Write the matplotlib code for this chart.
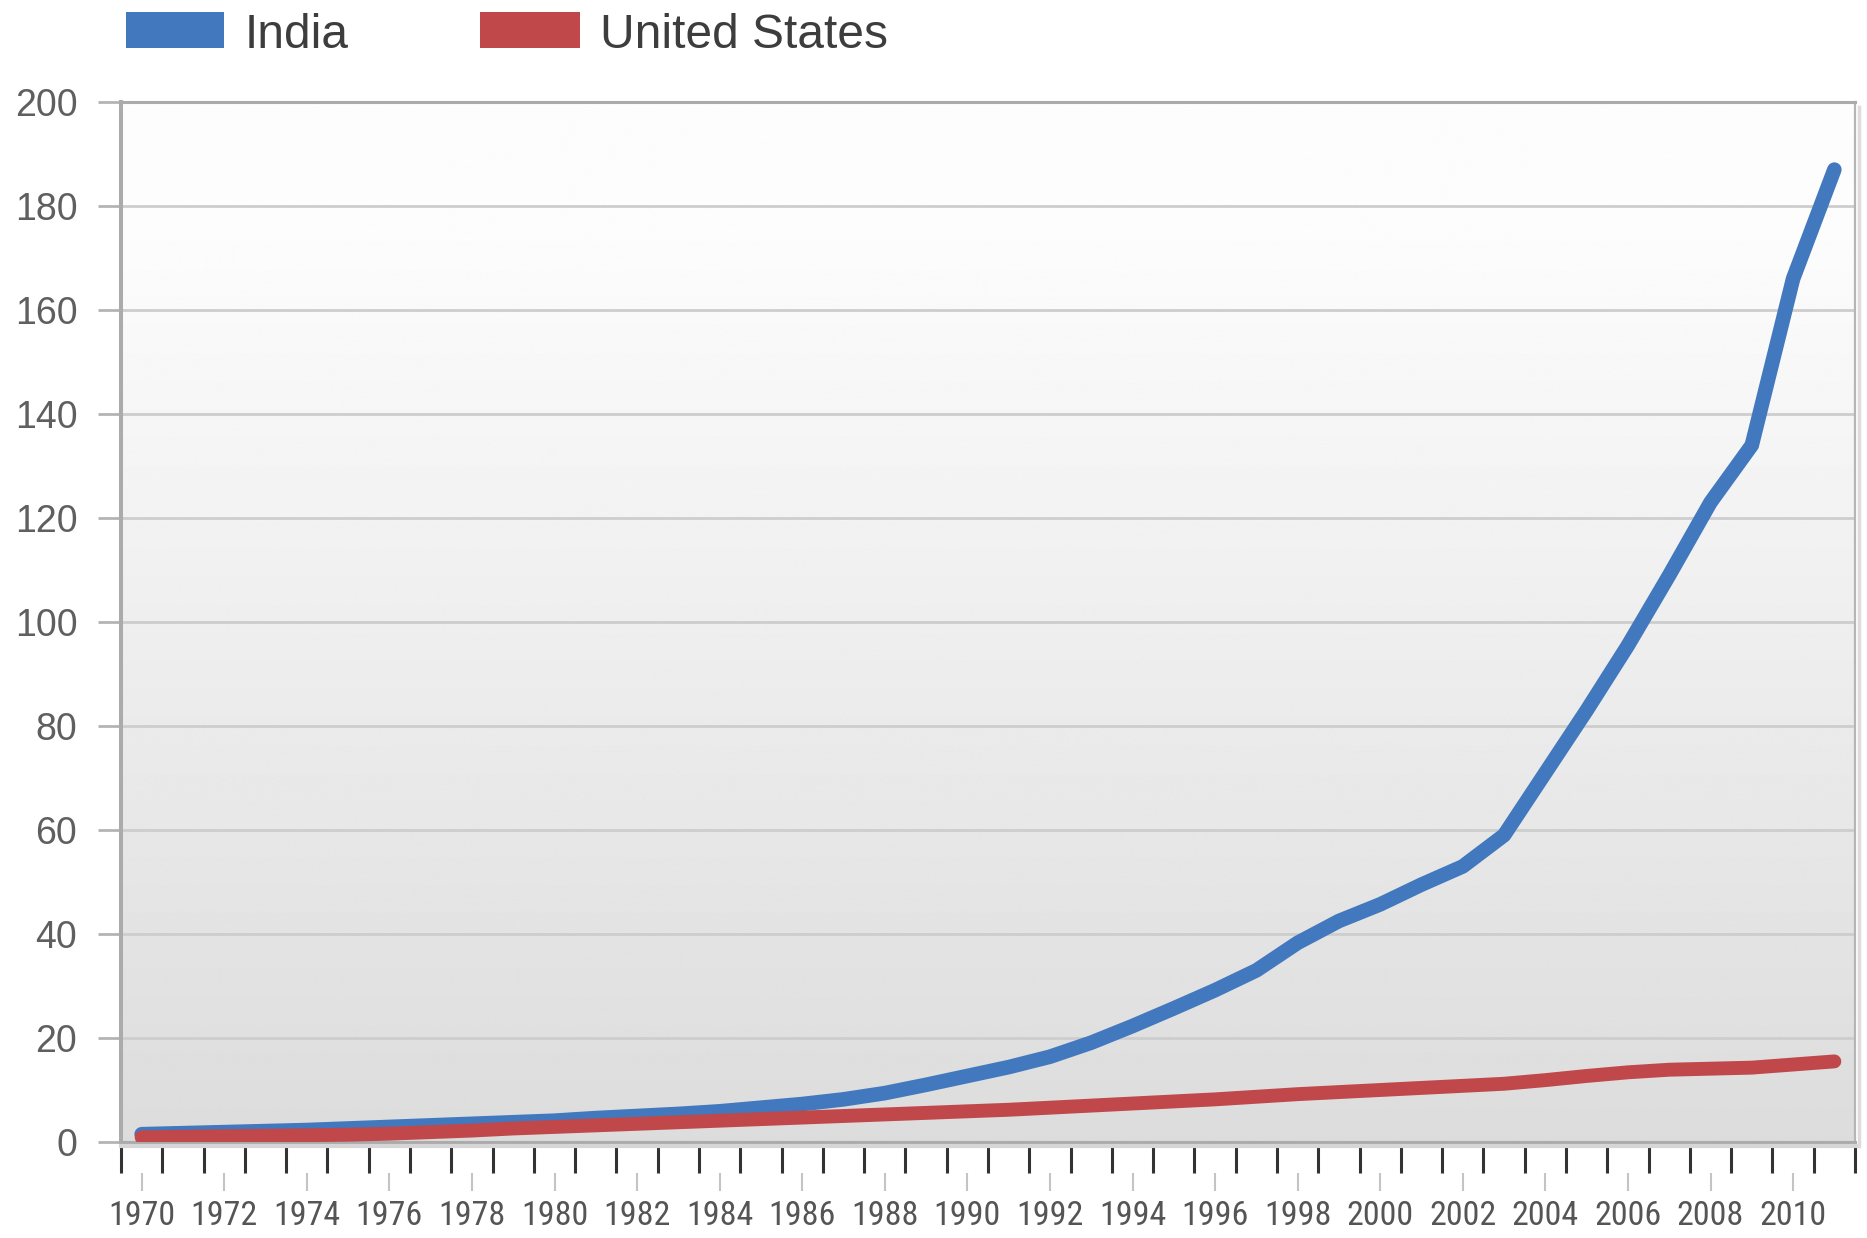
import numpy as np
import matplotlib
matplotlib.use("Agg")
import matplotlib.pyplot as plt
from matplotlib.patches import Rectangle
from matplotlib import font_manager

# ---- data -------------------------------------------------------------
years = list(range(1970, 2012))
india = [1.5, 1.7, 1.9, 2.1, 2.3, 2.6, 2.9, 3.2, 3.5, 3.8,
         4.1, 4.6, 5.0, 5.4, 5.9, 6.6, 7.3, 8.2, 9.4, 11.0,
         12.7, 14.4, 16.4, 19.1, 22.3, 25.7, 29.2, 33.0, 38.3, 42.5,
         45.7, 49.5, 53.0, 59.0, 71.0, 83.0, 95.5, 109.0, 123.0, 134.0,
         166.0, 187.0]
united_states = [0.9, 1.0, 1.1, 1.2, 1.3, 1.4, 1.6, 1.9, 2.2, 2.6,
                 2.9, 3.2, 3.5, 3.8, 4.1, 4.4, 4.7, 5.0, 5.3, 5.6,
                 5.9, 6.2, 6.6, 7.0, 7.4, 7.8, 8.2, 8.7, 9.2, 9.6,
                 10.0, 10.4, 10.8, 11.2, 11.9, 12.7, 13.4, 13.9, 14.1, 14.3,
                 14.9, 15.5]
series_names = ["India", "United States"]
series_colors = ["#4278be", "#c0484a"]
y_ticks = list(range(0, 201, 20))
x_label_years = list(range(1970, 2011, 2))


def pick(candidates):
    for fam, stretch in candidates:
        try:
            path = font_manager.findfont(
                font_manager.FontProperties(family=fam, stretch=stretch),
                fallback_to_default=False)
            if stretch != "normal" and "ondensed" not in path and "arrow" not in path:
                continue
            return fam, stretch, path
        except Exception:
            pass
    return "DejaVu Sans", "normal", None


regular = pick([("Liberation Sans", "normal"), ("Arial", "normal")])[0]
narrow_family, narrow_stretch, narrow_path = pick([
    ("Liberation Sans Narrow", "normal"),
    ("Roboto Condensed", "normal"),
    ("DejaVu Sans", "condensed"),
    ("DejaVu Sans Condensed", "normal"),
    ("Open Sans Condensed", "normal"),
    ("Liberation Sans", "normal"),
])
narrow_is_condensed = narrow_family != "Liberation Sans"

W, H, DPI = 1867, 1238, 100
fig = plt.figure(figsize=(W / DPI, H / DPI), dpi=DPI)
fig.patch.set_facecolor("white")


def fx(x):
    return x / W


def fy(y):
    return 1 - y / H


ax = fig.add_axes([fx(121), fy(1142), (1855 - 121) / W, (1142 - 102) / H])

# plot-area background: light grey at the bottom fading to white at the top
t = np.linspace(0, 1, 512)[:, None]
shade = (220 + (253 - 220) * np.clip(t * 1.12, 0, 1)) / 255
ax.imshow(np.repeat(shade, 2, axis=1), cmap="gray", vmin=0, vmax=1,
          origin="lower", extent=[0, 1, 0, 1], transform=ax.transAxes,
          aspect="auto", zorder=0, interpolation="bilinear")

# series
ax.plot(years, india, color=series_colors[0], lw=10.5,
        solid_capstyle="round", solid_joinstyle="round", zorder=3)
ax.plot(years, united_states, color=series_colors[1], lw=10.0,
        solid_capstyle="round", solid_joinstyle="round", zorder=4)

ax.set_xlim(1969.5, 2011.5)
ax.set_ylim(0, 200)

# y axis
ax.set_yticks(y_ticks)
ax.yaxis.grid(True, color="#cdcdcd", linewidth=2.0)
ax.set_axisbelow(True)
ax.tick_params(axis="y", direction="out", length=16.5, width=2.0,
               color="#b4b4b4", pad=15, labelsize=27, labelcolor="#5f5f5f")
for lab in ax.get_yticklabels():
    lab.set_fontfamily(regular)

# x axis: category boundaries as dark ticks, labels every two years
ax.set_xticks(x_label_years)
ax.set_xticks(np.arange(1969.5, 2012, 1), minor=True)
ax.tick_params(axis="x", which="major", length=0, pad=42,
               labelsize=24.5 if narrow_is_condensed else 22,
               labelcolor="#555555")
ax.tick_params(axis="x", which="minor", direction="out", length=22.5,
               width=2.2, color="#333333")
for lab in ax.get_xticklabels():
    lab.set_fontfamily(narrow_family)
    lab.set_fontstretch(narrow_stretch)
ax.vlines(x_label_years, -0.0300, -0.0470, transform=ax.get_xaxis_transform(),
          colors="#c4c4c4", linewidth=1.5, clip_on=False)

# frame
ax.spines["left"].set_color("#ababab")
ax.spines["left"].set_linewidth(2.9)
ax.spines["top"].set_color("#ababab")
ax.spines["top"].set_linewidth(2.2)
ax.spines["bottom"].set_color("#ababab")
ax.spines["bottom"].set_linewidth(2.2)
ax.spines["right"].set_color("#b5b5b5")
ax.spines["right"].set_linewidth(1.6)
ax.plot([0, 1.002], [-0.004, -0.004], transform=ax.transAxes,
        color="#d6d6d6", lw=3, clip_on=False, zorder=5)
ax.plot([1.0025, 1.0025], [-0.004, 0.995], transform=ax.transAxes,
        color="#dcdcdc", lw=2.5, clip_on=False, zorder=5)

# legend
legend_boxes = [(126, 224, 245), (480, 580, 600)]
for (x0, x1, tx), name, col in zip(legend_boxes, series_names, series_colors):
    fig.patches.append(Rectangle((fx(x0), fy(48)), (x1 - x0) / W, 36 / H,
                                 transform=fig.transFigure, facecolor=col,
                                 edgecolor="none"))
    fig.text(fx(tx), fy(48), name, fontsize=34.5, color="#3d3d3d",
             family=regular, va="baseline", ha="left")

fig.savefig("out.png", dpi=DPI)
